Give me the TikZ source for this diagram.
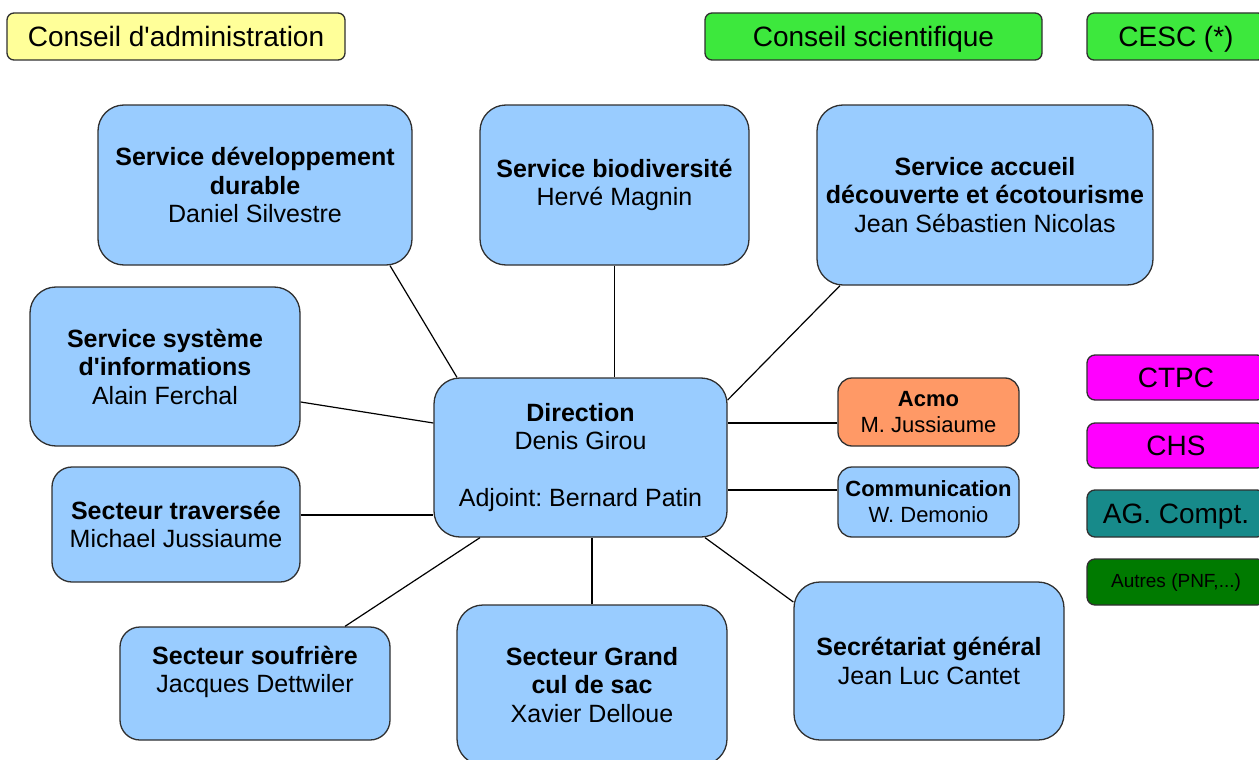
\documentclass[tikz,border=0pt]{standalone}
\usepackage{fontspec}
\setmainfont{Liberation Sans}
\AtBeginDocument{\frenchspacing}
\definecolor{lblue}{HTML}{99CCFF}
\definecolor{lyellow}{HTML}{FFFF99}
\definecolor{lgreen}{HTML}{3DE83D}
\definecolor{magen}{HTML}{FF00FF}
\definecolor{tealc}{HTML}{178A8A}
\definecolor{dgreen}{HTML}{007A00}
\definecolor{orangec}{HTML}{FF9966}
\definecolor{edgec}{HTML}{303030}
\begin{document}
\begin{tikzpicture}[x=1pt,y=-1pt,
  base/.style={draw=edgec,line width=1.3pt,rectangle,inner sep=0pt,align=center,text=black},
  big/.style={base,fill=lblue,rounded corners=26pt,font=\fontsize{25}{28.5}\selectfont},
  small/.style={base,rounded corners=14pt,font=\fontsize{22}{26}\selectfont},
  topbox/.style={base,rounded corners=7pt,minimum height=47pt,text height=22pt,text depth=2pt,font=\fontsize{28}{32}\selectfont},
  sidebox/.style={base,rounded corners=8pt,minimum width=178pt,text height=22pt,text depth=2pt,font=\fontsize{28}{32}\selectfont},
  link/.style={draw=black,line width=1.2pt}]
\useasboundingbox (0,0) rectangle (1259,760);
\clip (0,0) rectangle (1259,760);
\fill[white] (0,0) rectangle (1259,760);

% top boxes
\node[topbox,fill=lyellow,minimum width=338pt] (ca) at (176,36.5) {Conseil d\textquotesingle administration};
\node[topbox,fill=lgreen,minimum width=337pt] (cs) at (873.5,36.5) {Conseil scientifique};
\node[topbox,fill=lgreen,minimum width=178pt] (cesc) at (1176,36.5) {CESC (*)};

% main boxes
\node[big,minimum width=314pt,minimum height=160pt] (dd) at (255,185)
  {\textbf{Service développement}\\\textbf{durable}\\Daniel Silvestre};
\node[big,minimum width=269pt,minimum height=160pt] (bio) at (614.5,185)
  {\textbf{Service biodiversité}\\Hervé Magnin};
\node[big,minimum width=336pt,minimum height=180pt] (acc) at (985,195)
  {\textbf{Service accueil}\\\textbf{découverte et écotourisme}\\Jean Sébastien Nicolas};
\node[big,minimum width=270pt,minimum height=159pt] (si) at (165,366.5)
  {\textbf{Service système}\\\textbf{d\textquotesingle informations}\\Alain Ferchal};
\node[big,minimum width=293pt,minimum height=159pt] (dir) at (580.5,457.5)
  {\textbf{Direction}\\Denis Girou\\[28.5pt]Adjoint: Bernard Patin};
\node[big,minimum width=248pt,minimum height=115pt,rounded corners=20pt] (trav) at (176,524.5)
  {\textbf{Secteur traversée}\\Michael Jussiaume};
\node[big,minimum width=270pt,minimum height=113pt,rounded corners=20pt] (souf) at (255,683.5)
  {\textbf{Secteur soufrière}\\Jacques Dettwiler\\\mbox{}};
\node[big,minimum width=270pt,minimum height=160pt] (gcs) at (592,685)
  {\textbf{Secteur Grand}\\\textbf{cul de sac}\\Xavier Delloue};
\node[big,minimum width=270pt,minimum height=158pt] (sg) at (929,661)
  {\textbf{Secrétariat général}\\Jean Luc Cantet};

% small boxes
\node[small,fill=orangec,minimum width=181pt,minimum height=68pt] (acmo) at (928.5,412)
  {\textbf{Acmo}\\M. Jussiaume};
\node[small,fill=lblue,minimum width=181pt,minimum height=70pt] (com) at (928.5,502)
  {\textbf{Communication}\\W. Demonio};

% side boxes
\node[sidebox,fill=magen,minimum height=45pt] (ctpc) at (1176,377.5) {CTPC};
\node[sidebox,fill=magen,minimum height=45pt] (chs) at (1176,445.5) {CHS};
\node[sidebox,fill=tealc,minimum height=47pt] (ag) at (1176,513.5) {AG. Compt.};
\node[sidebox,fill=dgreen,minimum height=46pt,text height=14pt,text depth=4pt,font=\fontsize{19}{22}\selectfont] (autres) at (1176,582) {Autres (PNF,...)};

% connectors
\draw[link] ([xshift=135pt]dd.south) -- ([xshift=-123.5pt]dir.north);
\draw[link] (bio.south) -- (bio.south |- dir.north);
\draw[link] ([xshift=-145pt]acc.south) -- ([yshift=57.5pt]dir.east);
\draw[link] ([yshift=-35.5pt]si.east) -- ([yshift=34.5pt]dir.west);
\draw[link] ([yshift=9.5pt]trav.east) -- ([yshift=9.5pt]trav.east -| dir.west);
\draw[link] ([xshift=90pt]souf.north) -- ([xshift=-100.5pt]dir.south);
\draw[link] (gcs.north) -- (gcs.north |- dir.south);
\draw[link] ([xshift=124.5pt]dir.south) -- ([yshift=59pt]sg.west);
\draw[link] ([yshift=-11pt]acmo.west) -- ([yshift=-11pt]acmo.west -| dir.east);
\draw[link] ([yshift=12pt]com.west) -- ([yshift=12pt]com.west -| dir.east);
\end{tikzpicture}
\end{document}
